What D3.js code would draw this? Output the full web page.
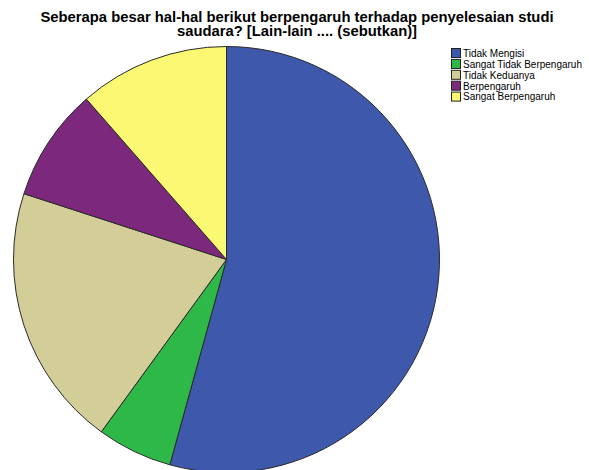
<!DOCTYPE html>
<html>
<head>
<meta charset="utf-8">
<script src="https://cdn.jsdelivr.net/npm/d3@7"></script>
<style>
  body { margin: 0; background: #fff; }
  svg { display: block; font-family: Arial, "Liberation Sans", sans-serif; }
</style>
</head>
<body>
<svg id="chart"></svg>
<script>
var svgWidth = 589;
var svgHeight = 470;

// data (counts)
var categories = ["Tidak Mengisi", "Sangat Tidak Berpengaruh", "Tidak Keduanya", "Berpengaruh", "Sangat Berpengaruh"];
var counts = [19, 2, 7, 3, 4];
var colors = ["#3e58ac", "#2eb848", "#d3ce97", "#7c287d", "#fbf873"];
var titleLines = ["Seberapa besar hal-hal berikut berpengaruh terhadap penyelesaian studi", "saudara? [Lain-lain .... (sebutkan)]"];

var svg = d3.select("#chart")
  .attr("width", svgWidth)
  .attr("height", svgHeight);

// title
svg.append("g")
  .selectAll("text")
  .data(titleLines)
  .enter()
  .append("text")
    .attr("x", 297)
    .attr("y", function (d, i) { return 22 + i * 14; })
    .attr("text-anchor", "middle")
    .style("font-size", "14.8px")
    .style("font-weight", "bold")
    .style("fill", "#000")
    .text(function (d) { return d; });

// pie
var cx = 226.5, cy = 259.5, radius = 213;

var pie = d3.pie()
  .sort(null)
  .value(function (d) { return d; });

var arc = d3.arc()
  .innerRadius(0)
  .outerRadius(radius);

var pieG = svg.append("g")
  .attr("transform", "translate(" + cx + "," + cy + ")");

pieG.selectAll("path")
  .data(pie(counts))
  .enter()
  .append("path")
    .attr("d", arc)
    .style("fill", function (d, i) { return colors[i]; })
    .style("stroke", "#2a2a2a")
    .style("stroke-width", 1);

// legend
var legend = svg.append("g")
  .attr("transform", "translate(451,48)");

var rows = legend.selectAll("g")
  .data(categories)
  .enter()
  .append("g")
    .attr("transform", function (d, i) { return "translate(0," + (i * 10.9) + ")"; });

rows.append("rect")
  .attr("x", 0.5)
  .attr("y", 0.5)
  .attr("width", 9)
  .attr("height", 9)
  .style("fill", function (d, i) { return colors[i]; })
  .style("stroke", "#222")
  .style("stroke-width", 1);

rows.append("text")
  .attr("x", 12)
  .attr("y", 8.8)
  .style("font-size", "10px")
  .style("fill", "#000")
  .text(function (d) { return d; });
</script>
</body>
</html>
